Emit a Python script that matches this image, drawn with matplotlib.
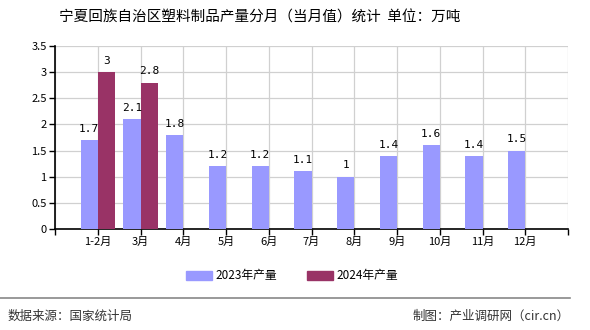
import matplotlib
matplotlib.use("Agg")
import matplotlib.pyplot as plt
import numpy as np
from matplotlib.lines import Line2D
from matplotlib.patches import Patch

plt.rcParams["font.family"] = ["Noto Sans CJK SC", "DejaVu Sans"]

months = ["1-2月", "3月", "4月", "5月", "6月", "7月", "8月", "9月", "10月", "11月", "12月"]
prod_2023 = [1.7, 2.1, 1.8, 1.2, 1.2, 1.1, 1.0, 1.4, 1.6, 1.4, 1.5]
prod_2024 = [3.0, 2.8]
yticks = [0, 0.5, 1, 1.5, 2, 2.5, 3, 3.5]

c2023 = "#9999FF"
c2024 = "#993366"

fig = plt.figure(figsize=(5.9, 3.3), dpi=100)
ax = fig.add_axes([55 / 590, 1 - 229 / 330, 513 / 590, 183 / 330])

x = np.arange(len(months))
w = 0.4
b1 = ax.bar(x - w / 2, prod_2023, width=w, color=c2023, zorder=3)
b2 = ax.bar(x[: len(prod_2024)] + w / 2, prod_2024, width=w, color=c2024, zorder=3)

for rects, vals in ((b1, prod_2023), (b2, prod_2024)):
    for r, v in zip(rects, vals):
        ax.text(r.get_x() + r.get_width() / 2, v + 0.12, f"{v:g}",
                ha="center", va="bottom", fontsize=8, color="#000000",
                family=["DejaVu Sans Mono"])

ax.set_xlim(-1, len(months))
ax.set_ylim(0, 3.5)
ax.set_xticks(np.arange(-1, len(months) + 1))
ax.set_xticklabels([""] + months + [""], fontsize=8)
ax.set_yticks(yticks)
ax.set_yticklabels([f"{t:g}" for t in yticks], fontsize=8)
ax.tick_params(axis="both", length=4, width=1, color="#000000", pad=2)
ax.grid(True, color="#d0d0d0", linewidth=0.9, zorder=0)
for side in ("top", "right"):
    ax.spines[side].set_visible(False)
for side in ("left", "bottom"):
    ax.spines[side].set_linewidth(1.2)

fig.text(260 / 590, 1 - 18 / 330, "宁夏回族自治区塑料制品产量分月（当月值）统计  单位：万吨",
         ha="center", va="center", fontsize=10.5)

handles = [Patch(color=c2023), Patch(color=c2024)]
fig.legend(handles, ["2023年产量", "2024年产量"], loc="center",
           bbox_to_anchor=(0.495, 1 - 276 / 330), ncol=2, frameon=False,
           fontsize=8.5, handlelength=2.2, handleheight=0.7, columnspacing=2.5,
           handletextpad=0.3)

fig.add_artist(Line2D([0, 570 / 590], [1 - 298 / 330] * 2, color="#888888",
                      linewidth=1.2, transform=fig.transFigure))
fig.text(8 / 590, 1 - 316 / 330, "数据来源：国家统计局", ha="left", va="center",
         fontsize=9, color="#333333")
fig.text(570 / 590, 1 - 316 / 330, "制图：产业调研网（cir.cn）", ha="right",
         va="center", fontsize=9, color="#333333")

fig.savefig("out.png", dpi=100)
